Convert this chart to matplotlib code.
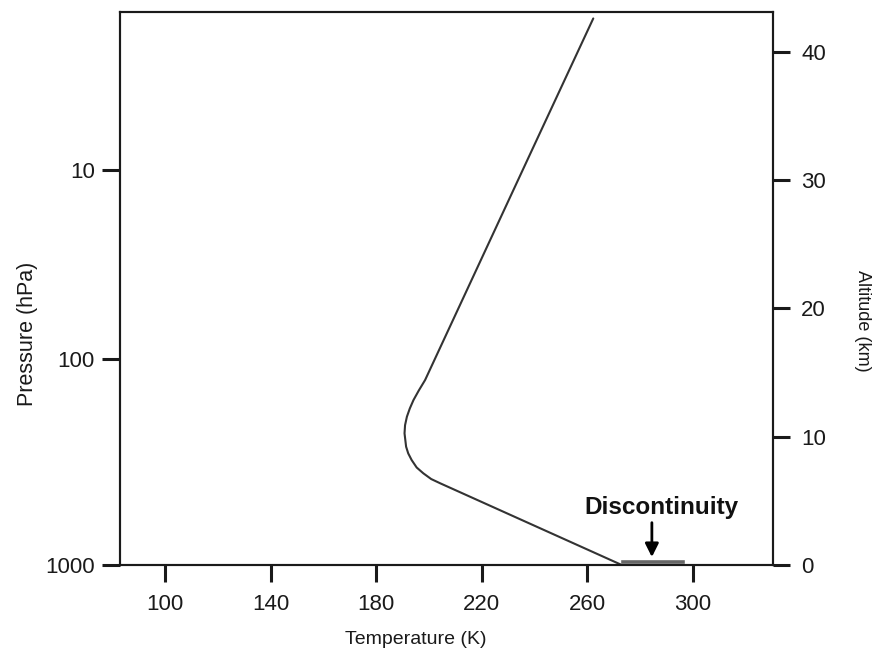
import matplotlib
matplotlib.use("Agg")
import matplotlib.pyplot as plt

plt.rcParams['font.family'] = ['Liberation Sans', 'DejaVu Sans']

# Temperature profile (K) vs altitude (km)
temperature = [273.0, 204.2, 200.8, 197.8, 195.3, 193.4, 192.1, 191.3, 190.7,
               190.9, 191.6, 192.7, 194.1, 196.1, 198.5, 239.0, 262.2]
altitude = [0.0, 6.37, 6.7, 7.15, 7.6, 8.18, 8.7, 9.22, 10.26,
            10.9, 11.56, 12.2, 12.86, 13.6, 14.42, 32.35, 42.6]

# Discontinuity at the surface
disc_temperature = [273.5, 296.2]
disc_altitude = [0.25, 0.25]

# Axis ticks
temp_ticks = [100, 140, 180, 220, 260, 300]
alt_ticks = [0, 10, 20, 30, 40]
pressure_labels = ["10", "100", "1000"]
pressure_tick_alt = [30.79, 16.08, 0.0]

fig = plt.figure(figsize=(8.81, 6.57), dpi=100)
ax = fig.add_axes([119.7/881, (657-565)/657, (773.3-119.7)/881, (565-12.3)/657])

ax.plot(temperature, altitude, color='#333333', lw=1.5,
        solid_capstyle='round', solid_joinstyle='round')
ax.plot(disc_temperature, disc_altitude, color='#666666', lw=2.6)

ax.set_xlim(82.8, 330.4)
ax.set_ylim(0, 43.08)

ax.annotate('', xy=(284.4, 0.62), xytext=(284.4, 3.3),
            arrowprops=dict(arrowstyle='-|>,head_width=0.4,head_length=0.8',
                            color='black', lw=2.0, shrinkA=0, shrinkB=0))
ax.text(287.9, 4.52, 'Discontinuity', ha='center', va='center',
        fontsize=17.5, fontweight='bold', color='#111111')

for s in ax.spines.values():
    s.set_linewidth(1.5)
    s.set_color('#1a1a1a')

ax.set_xticks(temp_ticks)
ax.set_xticklabels([str(t) for t in temp_ticks])
ax.tick_params(axis='x', direction='out', length=12, width=2.2, pad=9,
               labelsize=16, colors='#1a1a1a')

ax.set_yticks(pressure_tick_alt)
ax.set_yticklabels(pressure_labels)
ax.tick_params(axis='y', direction='out', length=13, width=2.2, pad=5,
               labelsize=16, colors='#1a1a1a')

ax2 = ax.twinx()
ax2.set_ylim(ax.get_ylim())
ax2.set_yticks(alt_ticks)
ax2.set_yticklabels([str(a) for a in alt_ticks])
ax2.tick_params(axis='y', direction='out', length=12, width=2.2, pad=8,
                labelsize=16, colors='#1a1a1a')
for s in ax2.spines.values():
    s.set_linewidth(1.5)
    s.set_color('#1a1a1a')

ax.set_xlabel('Temperature (K)', fontsize=14, color='#1a1a1a')
ax.xaxis.set_label_coords((416-119.7)/(773.3-119.7), -(640-565)/(565-12.3), transform=ax.transAxes)
ax.xaxis.label.set_va('center')

ax.set_ylabel('Pressure (hPa)', fontsize=15.5, color='#1a1a1a')
ax.yaxis.set_label_coords(-(119.7-28)/(773.3-119.7), (565-334)/(565-12.3), transform=ax.transAxes)
ax.yaxis.label.set_va('center')

ax2.set_ylabel('Altitude (km)', fontsize=13, color='#1a1a1a', rotation=270)
ax2.yaxis.set_label_coords((862-119.7)/(773.3-119.7), (565-321)/(565-12.3), transform=ax2.transAxes)
ax2.yaxis.label.set_va('center')
ax2.yaxis.label.set_ha('center')

fig.savefig('out.png', dpi=100)
